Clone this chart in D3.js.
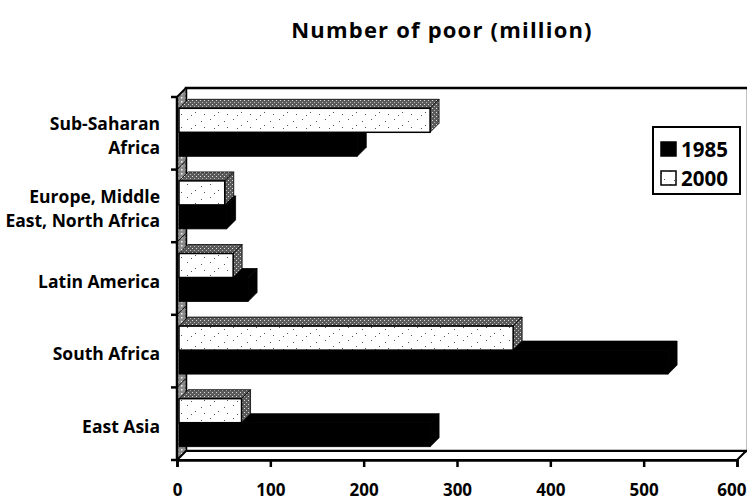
<!DOCTYPE html>
<html>
<head>
<meta charset="utf-8">
<script src="https://cdn.jsdelivr.net/npm/d3@7"></script>
<style>
  html, body { margin: 0; padding: 0; background: #fff; }
  svg text { font-family: "Open Sans", "DejaVu Sans", sans-serif; font-weight: 700; fill: #000; }
</style>
</head>
<body>
<div id="chart"></div>
<script>
'use strict';

// data, top row first
const categories = ['Sub-Saharan Africa', 'Europe, Middle East, North Africa', 'Latin America', 'South Africa', 'East Asia'];
const categoryLines = [['Sub-Saharan', 'Africa'], ['Europe, Middle', 'East, North Africa'], ['Latin America'], ['South Africa'], ['East Asia']];
const seriesNames = ['1985', '2000'];
const values1985 = [191, 51, 74, 524, 269];
const values2000 = [269, 49, 58, 358, 67];
const xTicks = [0, 100, 200, 300, 400, 500, 600];

const width = 747, height = 500;
const depth = 9;      // 3D offset of the walls
const barInset = 2;   // bars sit a little behind the front plane

const svg = d3.select('#chart').append('svg')
  .attr('width', width)
  .attr('height', height)
  .attr('viewBox', `0 0 ${width} ${height}`);

// textures
const defs = svg.append('defs');
const hatch = defs.append('pattern').attr('id', 'hatch')
  .attr('width', 4).attr('height', 4).attr('patternUnits', 'userSpaceOnUse');
hatch.append('rect').attr('width', 4).attr('height', 4).attr('fill', '#5a5a5a');
hatch.append('rect').attr('x', 0).attr('y', 0).attr('width', 1).attr('height', 1).attr('fill', '#ddd');
hatch.append('rect').attr('x', 2).attr('y', 2).attr('width', 1).attr('height', 1).attr('fill', '#bbb');

const wallTex = defs.append('pattern').attr('id', 'wall')
  .attr('width', 4).attr('height', 4).attr('patternUnits', 'userSpaceOnUse');
wallTex.append('rect').attr('width', 4).attr('height', 4).attr('fill', '#8a8a8a');
wallTex.append('rect').attr('x', 1).attr('y', 1).attr('width', 1.5).attr('height', 1.5).attr('fill', '#f4f4f4');

const speckle = defs.append('pattern').attr('id', 'speckle')
  .attr('width', 23).attr('height', 13).attr('patternUnits', 'userSpaceOnUse');
speckle.append('rect').attr('width', 23).attr('height', 13).attr('fill', '#fff');
[[3, 2], [11, 8], [17, 4], [7, 11], [20, 10]].forEach(([cx, cy]) => {
  speckle.append('rect').attr('x', cx).attr('y', cy).attr('width', 1).attr('height', 1).attr('fill', '#555');
});

// scales
const x = d3.scaleLinear().domain([0, 600]).range([177, 737]);
const y = d3.scaleBand().domain(categories).range([97, 460]);
const groupH = 48;
const yInner = d3.scaleBand().domain(['2000', '1985']).range([0, groupH]);
const groupTop = d => y(d) + (y.bandwidth() - groupH) / 2 - 1;

const x0 = x(0), xMax = x(600);
const yTop = y.range()[0], yBot = y.range()[1];

// back wall
svg.append('rect')
  .attr('x', x0 + depth).attr('y', yTop - depth)
  .attr('width', xMax - x0 + 2).attr('height', yBot - yTop)
  .attr('fill', '#fff').attr('stroke', '#000').attr('stroke-width', 2.5);

// left wall
svg.append('polygon')
  .attr('points', [[x0, yTop], [x0 + depth, yTop - depth], [x0 + depth, yBot - depth], [x0, yBot]].join(' '))
  .attr('fill', 'url(#wall)').attr('stroke', '#000').attr('stroke-width', 1);

// floor
svg.append('polygon')
  .attr('points', [[x0, yBot], [x0 + depth, yBot - depth], [xMax + depth, yBot - depth], [xMax, yBot]].join(' '))
  .attr('fill', '#fff').attr('stroke', '#000').attr('stroke-width', 2);

// category dividers on the wall
svg.append('g').selectAll('line')
  .data(categories.slice(1))
  .join('line')
  .attr('x1', x0).attr('x2', x0 + depth)
  .attr('y1', d => y(d)).attr('y2', d => y(d) - depth)
  .attr('stroke', '#000').attr('stroke-width', 1);

// bars
const rows = categories.map((c, i) => ({ cat: c, v1985: values1985[i], v2000: values2000[i] }));

function drawBar (g, cat, val, series) {
  const xs = x0 + barInset;
  const xe = x(val) + barInset;
  const yt = groupTop(cat) + yInner(series);
  const h = yInner.bandwidth();
  const dark = series === '1985';

  // top face
  g.append('polygon')
    .attr('points', [[xs, yt], [xs + depth, yt - depth], [xe + depth, yt - depth], [xe, yt]].join(' '))
    .attr('fill', dark ? '#000' : 'url(#hatch)')
    .attr('stroke', '#000').attr('stroke-width', 0.8);
  // side face
  g.append('polygon')
    .attr('points', [[xe, yt], [xe + depth, yt - depth], [xe + depth, yt + h - depth], [xe, yt + h]].join(' '))
    .attr('fill', dark ? '#000' : 'url(#hatch)')
    .attr('stroke', '#000').attr('stroke-width', 0.8);
  // front face
  g.append('rect')
    .attr('x', xs).attr('y', yt)
    .attr('width', xe - xs).attr('height', h)
    .attr('fill', dark ? '#000' : 'url(#speckle)')
    .attr('stroke', '#000').attr('stroke-width', dark ? 0.8 : 1.5);
}

const barsG = svg.append('g').attr('class', 'bars');
rows.forEach(r => {
  const g = barsG.append('g');
  drawBar(g, r.cat, r.v1985, '1985');
  drawBar(g, r.cat, r.v2000, '2000');
});

// front axis lines
svg.append('line')
  .attr('x1', x0).attr('x2', x0).attr('y1', yTop).attr('y2', yBot)
  .attr('stroke', '#000').attr('stroke-width', 2.5);
svg.append('line')
  .attr('x1', x0).attr('x2', x0 + depth).attr('y1', yTop).attr('y2', yTop - depth)
  .attr('stroke', '#000').attr('stroke-width', 2);

// left ticks at band boundaries
const yBounds = categories.map(c => y(c)).concat([yBot]);
svg.append('g').selectAll('line')
  .data(yBounds)
  .join('line')
  .attr('x1', x0 - 6).attr('x2', x0)
  .attr('y1', d => d).attr('y2', d => d)
  .attr('stroke', '#000').attr('stroke-width', 2.5);

// bottom axis
const xAxis = d3.axisBottom(x).tickValues(xTicks).tickSize(7).tickPadding(17).tickFormat(d3.format('d'));
const axG = svg.append('g')
  .attr('transform', `translate(0,${yBot})`)
  .call(xAxis);
axG.select('.domain').attr('stroke', '#000').attr('stroke-width', 2.5);
axG.selectAll('.tick line').attr('stroke', '#000').attr('stroke-width', 2.5);
axG.selectAll('.tick text')
  .style('font-family', '"Open Sans", sans-serif').style('font-weight', 700)
  .style('font-size', '17px').attr('fill', '#000');
// last label would run off the page edge
axG.selectAll('.tick text').filter(d => d === 600)
  .attr('text-anchor', 'end').attr('x', width - 1 - x(600));

// category labels
const labG = svg.append('g');
categories.forEach((c, i) => {
  const lines = categoryLines[i];
  const cy = y(c) + y.bandwidth() / 2;
  const lh = 24;
  const t = labG.append('text')
    .attr('text-anchor', 'end')
    .style('font-size', '17.5px');
  lines.forEach((ln, j) => {
    t.append('tspan')
      .attr('x', 160)
      .attr('y', cy + (j - (lines.length - 1) / 2) * lh + 9)
      .text(ln);
  });
});

// legend
const leg = svg.append('g');
leg.append('rect')
  .attr('x', 653).attr('y', 127).attr('width', 87).attr('height', 67)
  .attr('fill', '#fff').attr('stroke', '#000').attr('stroke-width', 2);
seriesNames.forEach((s, i) => {
  const yy = 142 + i * 29;
  leg.append('rect')
    .attr('x', 661).attr('y', yy).attr('width', 15).attr('height', 14)
    .attr('fill', s === '1985' ? '#000' : 'url(#speckle)')
    .attr('stroke', '#000').attr('stroke-width', 1.5);
  leg.append('text')
    .attr('x', 681).attr('y', yy + 14.5)
    .style('font-size', '20.5px')
    .text(s);
});

// title
svg.append('text')
  .attr('x', 442).attr('y', 38)
  .attr('text-anchor', 'middle')
  .style('font-size', '22px')
  .style('letter-spacing', '1.2px')
  .text('Number of poor (million)');
</script>
</body>
</html>
